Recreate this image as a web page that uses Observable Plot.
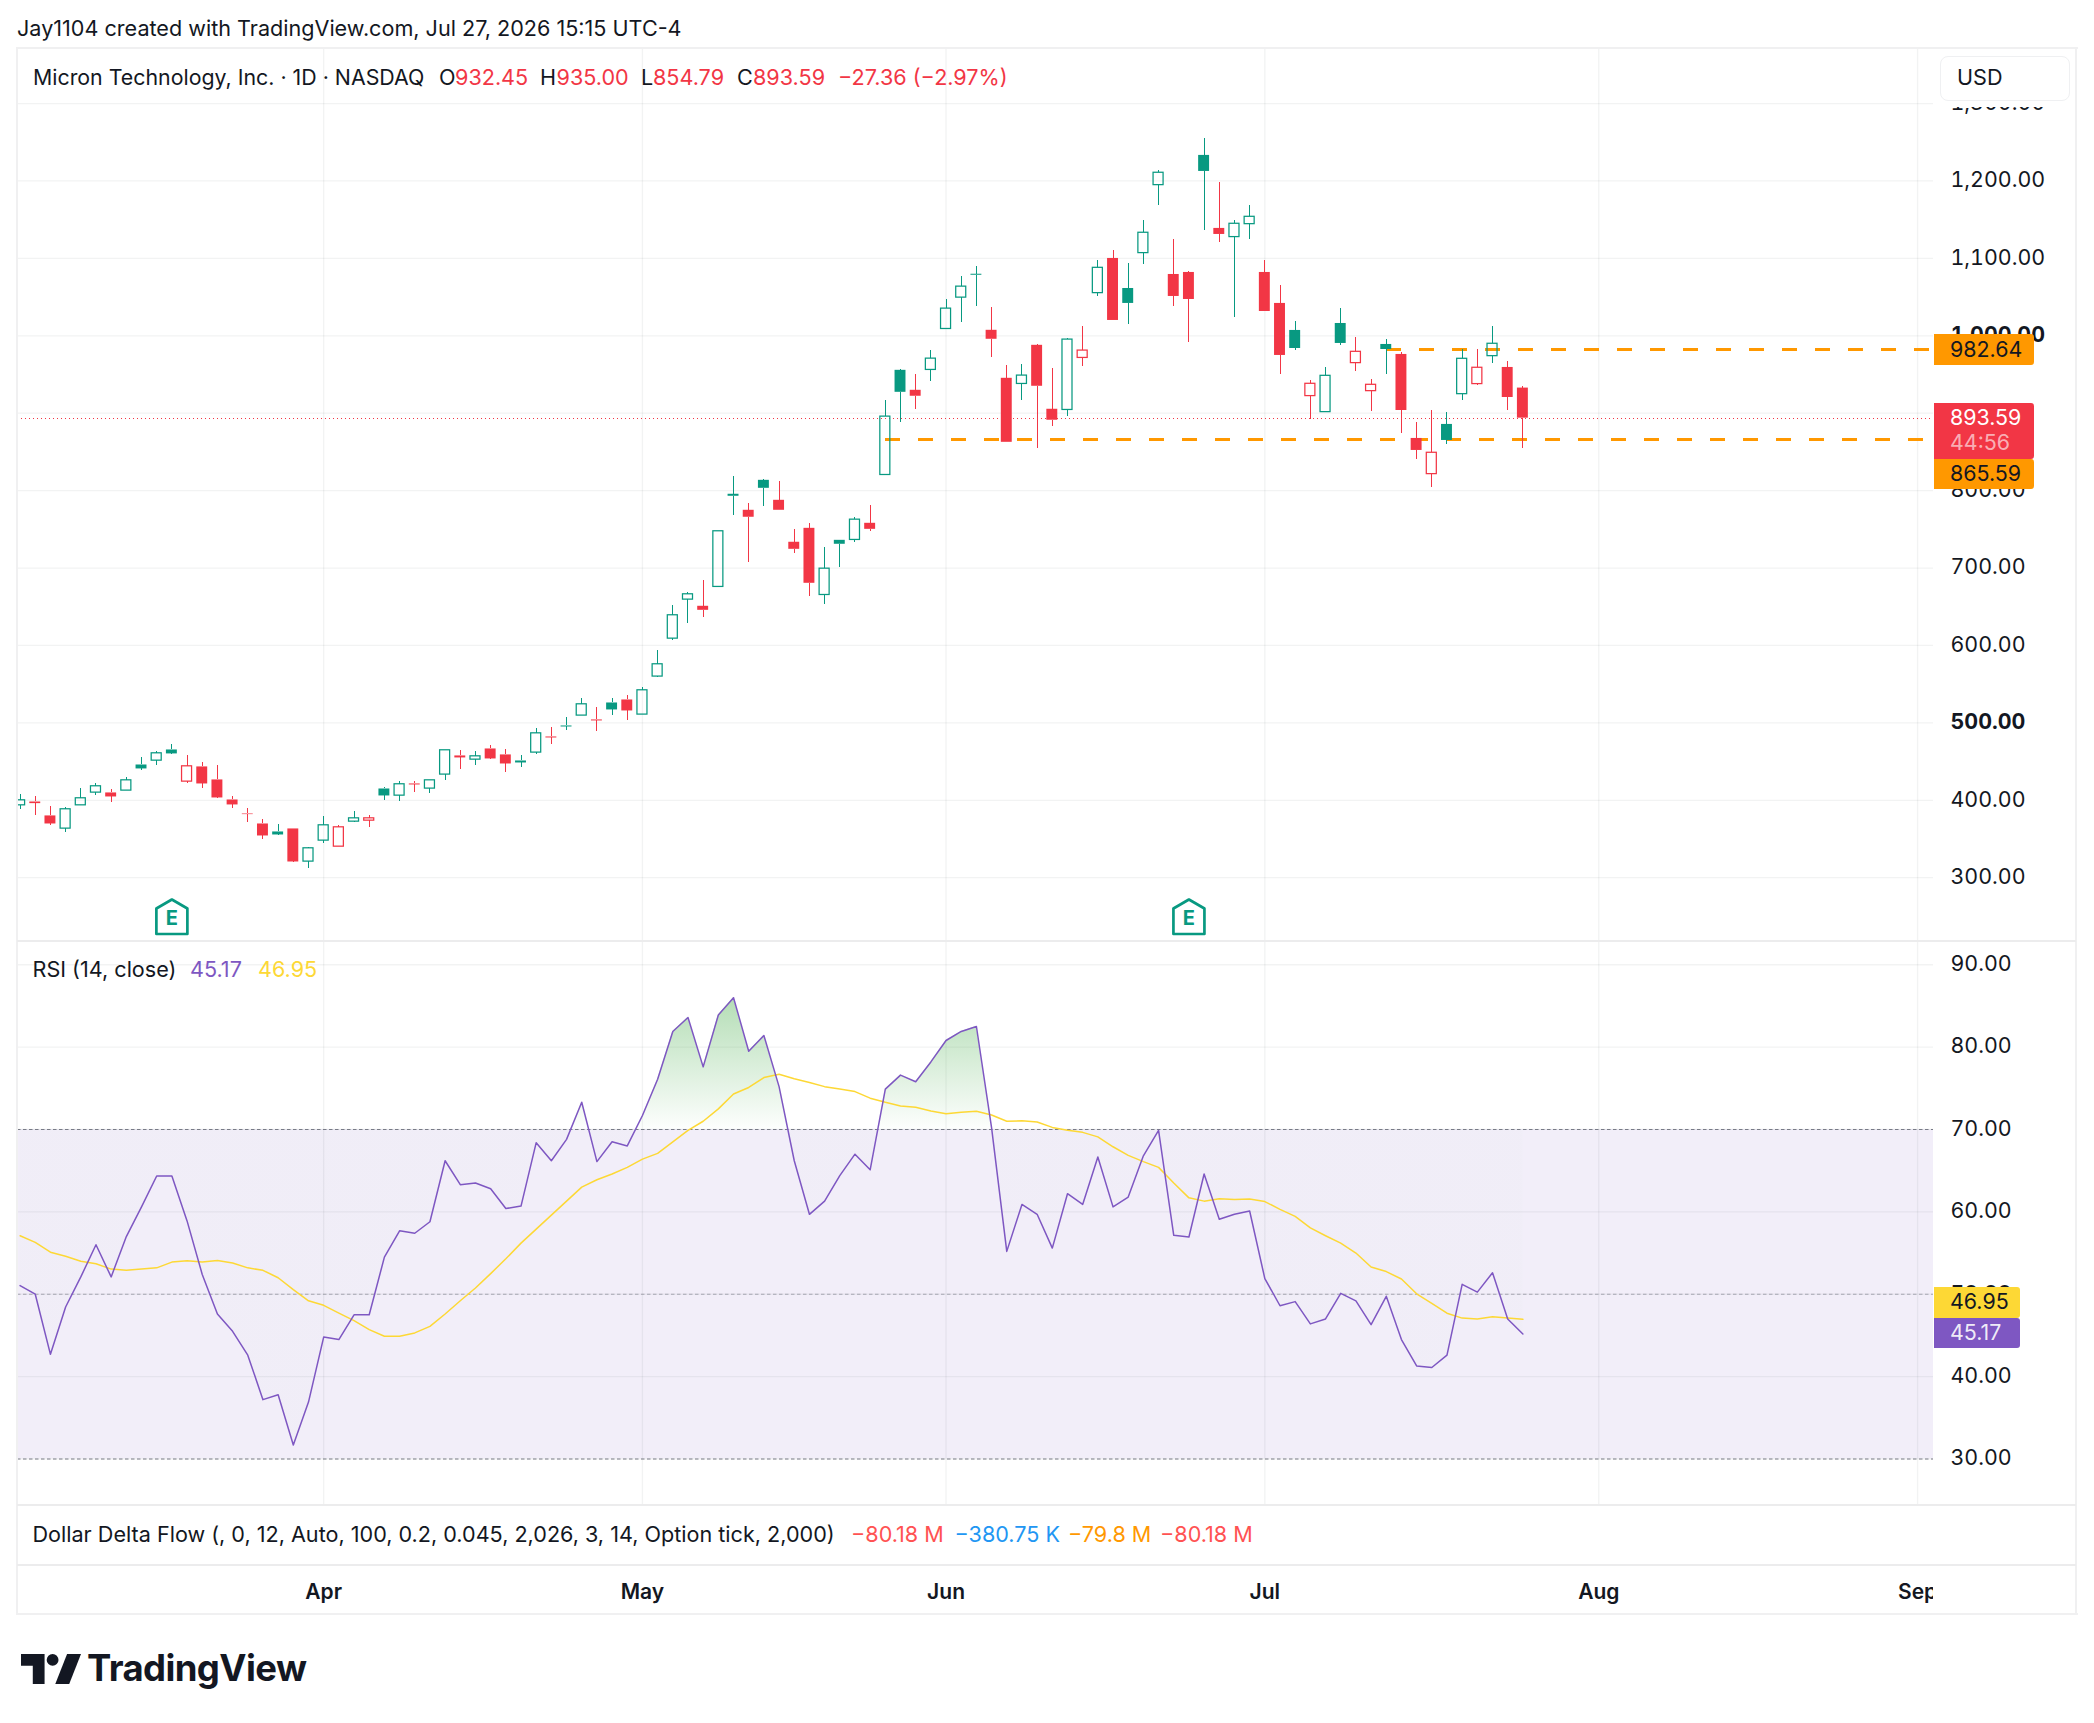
<!DOCTYPE html>
<html>
<head>
<meta charset="utf-8">
<title>Micron Technology, Inc. 1D NASDAQ</title>
<script src="https://cdn.jsdelivr.net/npm/d3@7"></script>
<script src="https://cdn.jsdelivr.net/npm/@observablehq/plot@0.6"></script>
<style>
html,body{margin:0;padding:0;background:#fff;}
#page{position:relative;width:2094px;height:1723px;overflow:hidden;background:#fff;font-family:Inter,"Liberation Sans",sans-serif;color:#131722;}
#page svg.plot-layer{position:absolute;left:0;max-width:none;}
.t{position:absolute;white-space:pre;line-height:1;transform:translateY(-50%);}
.box{position:absolute;}
</style>
</head>
<body>
<div id="page"></div>
<script>
// ---------- candles: one entry per trading day ----------
const candleHigh = [
 407.8,404.3,391.4,390.1,414.6,422.0,413.3,428.8,454.7,462.4,
 471.5,457.3,448.2,444.4,404.3,388.8,374.6,368.1,363.0,338.4,
 378.5,366.8,384.9,379.8,415.9,423.7,423.7,425.8,464.6,463.7,
 462.4,470.2,465.0,457.3,492.1,493.4,506.4,530.9,519.3,530.9,
 534.8,545.1,592.9,651.0,667.8,684.2,747.5,818.5,783.6,814.6,
 812.1,750.0,757.8,726.8,735.8,765.6,781.1,916.7,956.7,950.3,
 981.3,1047.2,1076.9,1089.8,1036.8,961.9,963.2,989.0,958.0,996.8,
 1012.3,1097.3,1110.2,1093.4,1149.0,1213.6,1124.4,1083.1,1254.9,1198.1,
 1149.0,1168.4,1097.3,1065.0,1018.5,942.3,959.1,1035.3,997.8,943.6,
 995.3,978.5,888.0,903.5,901.0,982.3,982.3,1012.1,966.8,935.0];
const candleTop = [
 400.0,397.8,379.8,388.4,402.6,418.1,409.5,425.8,445.6,460.7,
 465.0,443.9,443.1,426.3,400.4,382.3,369.4,359.1,363.0,338.0,
 367.7,365.1,376.7,376.7,414.6,420.7,421.1,425.8,464.6,457.3,
 456.8,466.3,458.6,450.8,486.5,481.8,496.0,524.0,503.8,525.7,
 529.6,542.1,575.7,639.0,666.1,650.6,747.5,795.3,774.6,813.3,
 787.5,733.3,751.3,699.2,735.8,762.5,757.8,895.6,955.4,929.6,
 970.5,1035.1,1063.5,1079.5,1007.1,945.1,948.6,987.7,905.1,995.1,
 980.9,1087.8,1099.9,1061.1,1133.1,1210.6,1079.2,1081.8,1233.0,1138.7,
 1144.7,1153.7,1081.8,1041.8,1006.9,938.0,948.3,1015.9,979.3,936.7,
 988.8,975.9,867.4,848.9,885.5,970.3,958.7,989.7,959.1,932.45];
const candleBottom = [
 393.5,395.7,369.4,363.4,393.5,409.9,404.3,412.5,440.5,451.2,
 459.9,424.1,421.1,403.0,394.0,381.5,353.9,355.2,320.3,320.8,
 347.9,340.1,372.4,373.7,405.6,406.0,419.8,415.1,433.2,454.7,
 452.5,453.4,446.9,448.2,461.6,480.5,494.7,509.4,502.5,516.7,
 515.4,510.7,559.8,608.8,659.2,645.4,675.6,792.7,765.6,803.0,
 774.6,724.2,680.3,665.2,730.7,736.3,750.0,820.2,927.0,921.9,
 955.9,1008.8,1049.3,1078.2,995.5,862.4,937.8,934.8,890.9,904.2,
 971.4,1055.1,1019.8,1041.8,1106.8,1194.6,1050.8,1046.9,1212.3,1130.9,
 1127.5,1144.2,1031.4,974.6,983.6,922.1,901.4,990.1,964.7,928.5,
 982.3,903.5,851.9,821.3,864.8,924.6,937.6,973.7,920.3,893.59];
const candleLow = [
 387.9,379.8,366.8,358.2,393.5,406.0,396.6,412.5,437.9,444.4,
 458.6,421.1,414.6,401.7,388.8,370.7,350.0,353.9,319.0,311.3,
 343.6,340.1,370.7,364.3,399.1,397.8,409.5,408.2,425.0,439.2,
 444.4,452.1,435.3,441.8,458.6,471.5,489.6,509.4,488.3,508.9,
 502.5,510.7,558.0,605.8,627.8,636.4,675.6,768.1,707.4,779.8,
 774.6,719.0,663.5,653.2,701.0,733.3,747.5,820.2,888.3,905.1,
 941.2,1008.8,1017.4,1038.2,972.2,862.4,916.7,854.7,883.1,896.0,
 960.6,1050.8,1019.8,1014.6,1092.1,1168.4,1037.9,991.4,1136.1,1120.6,
 1023.7,1124.4,1031.4,950.0,981.0,891.9,901.4,987.5,953.9,902.3,
 950.0,873.8,840.2,804.1,859.6,916.5,935.8,964.3,903.5,854.79];
const candleUp = [
 1,0,0,1,1,1,0,1,1,1,
 1,0,0,0,0,0,0,1,0,1,
 1,0,1,0,1,1,0,1,1,0,
 1,0,0,1,1,0,1,1,0,1,
 0,1,1,1,1,0,1,1,0,1,
 0,0,0,1,1,1,0,1,1,0,
 1,1,1,1,0,0,1,0,0,1,
 0,1,0,1,1,1,0,0,1,0,
 1,1,0,0,1,0,1,1,0,0,
 1,0,0,0,1,1,0,1,0,0];
const candleHollow = [
 1,0,0,1,1,1,0,1,0,1,
 0,1,0,0,0,0,0,0,0,1,
 1,1,1,1,0,1,0,1,1,0,
 1,0,0,0,1,0,0,1,0,0,
 0,1,1,1,1,0,1,0,0,0,
 0,0,0,1,0,1,0,1,0,0,
 1,1,1,0,0,0,1,0,0,1,
 1,1,0,0,1,1,0,0,0,0,
 1,1,0,0,0,1,1,0,1,1,
 0,0,0,1,0,1,1,1,0,0];

// ---------- RSI(14) and its moving average ----------
const rsiValues = [
 51.05,50.0,42.7,48.45,52.1,56.0,52.1,57.0,60.6,64.35,
 64.35,58.9,52.4,47.6,45.5,42.6,37.2,37.8,31.7,36.9,
 44.8,44.5,47.5,47.5,54.5,57.7,57.4,58.8,66.2,63.3,
 63.5,62.8,60.4,60.7,68.4,66.2,68.8,73.3,66.1,68.5,
 68.0,71.7,76.1,81.9,83.6,77.6,83.9,86.0,79.5,81.4,
 75.2,66.2,59.7,61.3,64.4,67.0,65.1,74.9,76.6,75.8,
 78.2,80.8,81.9,82.5,70.2,55.2,60.9,59.7,55.6,62.2,
 60.9,66.65,60.6,61.8,66.8,69.9,57.15,56.95,64.6,59.1,
 59.7,60.1,51.9,48.6,49.1,46.4,47.0,50.1,49.2,46.3,
 49.75,44.5,41.3,41.1,42.6,51.2,50.25,52.6,47.0,45.17];
const rsiAverage = [
 57.1,56.3,55.1,54.6,54.0,53.7,53.05,52.9,53.05,53.2,
 53.9,54.05,53.9,54.1,53.8,53.2,52.9,52.0,50.55,49.2,
 48.65,47.7,46.8,45.7,44.9,44.9,45.3,46.1,47.6,49.2,
 50.75,52.5,54.3,56.2,57.9,59.6,61.3,63.0,63.9,64.6,
 65.4,66.4,67.1,68.5,69.9,71.0,72.5,74.3,75.1,76.3,
 76.7,76.15,75.7,75.2,74.9,74.6,73.8,73.3,72.85,72.7,
 72.25,71.9,72.1,72.2,71.75,71.0,71.05,70.9,70.25,69.9,
 69.65,69.1,67.9,66.85,66.1,65.4,63.5,61.7,61.3,61.6,
 61.5,61.55,61.25,60.3,59.45,58.05,57.1,56.2,55.0,53.3,
 52.75,51.85,50.05,48.9,47.7,47.1,47.0,47.25,47.1,46.95];

// ---------- axes and levels ----------
const priceTicks = [300,400,500,600,700,800,900,1000,1100,1200,1300];
const priceBoldTicks = [500,1000];
const rsiTicks = [30,40,50,60,70,80,90];
const monthBars = [20,41,61,82,104,125];
const monthNames = ["Apr","May","Jun","Jul","Aug","Sep"];
const earningsBars = [10,77];
const lastClose = 893.59;
const upperLevel = 982.64, upperLevelStart = 90;
const lowerLevel = 865.59, lowerLevelStart = 57;
const rsiBounds = [30,50,70];

const GREEN="#089981", RED="#F23645", ORANGE="#FF9800", PURPLE="#7E57C2", YELLOW="#FDD835", INK="#131722";
const FONT='Inter,"Liberation Sans",sans-serif';
const candles = candleHigh.map((h,i)=>({bar:i,high:h,top:candleTop[i],bottom:candleBottom[i],low:candleLow[i],
  color:candleUp[i]?GREEN:RED,hollow:!!candleHollow[i]}));
const rsiRows = rsiValues.map((v,i)=>({bar:i,rsi:v,avg:rsiAverage[i]}));

const X_DOMAIN=[-0.17,126.05], W=2094, ML=17, MR=161;
const page=document.getElementById("page");
const gridStyle={stroke:"#2a2e39",strokeOpacity:0.06,strokeWidth:1.3};

function place(svg,top){svg.classList.add("plot-layer");svg.style.top=top+"px";page.appendChild(svg);return svg;}
const fmt=d3.format(",.2f");
const axisBase={anchor:"right",tickSize:0,tickPadding:17,textAnchor:"start",tickFormat:fmt,label:null,fontFamily:FONT,fontSize:21.4,fill:INK};

// ---------- price pane ----------
const houseMark={draw(c){c.moveTo(0,-18);c.lineTo(15.5,-9);c.lineTo(15.5,16.5);c.lineTo(-15.5,16.5);c.lineTo(-15.5,-9);c.closePath();}};
const main=Plot.plot({
  width:W,height:893,marginLeft:ML,marginRight:MR,marginTop:0,marginBottom:0,
  style:{background:"transparent",fontFamily:FONT},
  x:{domain:X_DOMAIN,axis:null},
  y:{domain:[217.6,1371.1]},
  color:{type:"identity"},
  marks:[
    Plot.ruleX(monthBars,gridStyle),
    Plot.ruleY(priceTicks,gridStyle),
    Plot.ruleY([lastClose],{stroke:RED,strokeWidth:1,strokeDasharray:"1 3",shapeRendering:"crispEdges"}),
    Plot.ruleY([upperLevel],{x1:upperLevelStart,x2:X_DOMAIN[1],stroke:ORANGE,strokeWidth:3,strokeDasharray:"15 18",shapeRendering:"crispEdges"}),
    Plot.ruleY([lowerLevel],{x1:lowerLevelStart,x2:X_DOMAIN[1],stroke:ORANGE,strokeWidth:3,strokeDasharray:"15 18",shapeRendering:"crispEdges"}),
    Plot.ruleX(candles,{x:"bar",y1:"high",y2:"top",stroke:"color",strokeWidth:1,clip:true,shapeRendering:"crispEdges"}),
    Plot.ruleX(candles,{x:"bar",y1:"bottom",y2:"low",stroke:"color",strokeWidth:1,clip:true,shapeRendering:"crispEdges"}),
    Plot.rect(candles.filter(d=>!d.hollow),{x1:d=>d.bar-0.36,x2:d=>d.bar+0.36,y1:"bottom",y2:"top",fill:"color",clip:true}),
    Plot.rect(candles.filter(d=>d.hollow),{x1:d=>d.bar-0.33,x2:d=>d.bar+0.33,y1:"bottom",y2:"top",fill:"none",stroke:"color",strokeWidth:1.25,clip:true}),
    Plot.dot(earningsBars,{x:d=>d,frameAnchor:"bottom",dy:-24,symbol:houseMark,fill:"#fff",stroke:GREEN,strokeWidth:2.7,strokeLinejoin:"round"}),
    Plot.text(earningsBars,{x:d=>d,text:()=>"E",frameAnchor:"bottom",lineAnchor:"middle",dy:-22.5,fill:GREEN,fontWeight:700,fontSize:20,fontFamily:FONT}),
    Plot.axisY({...axisBase,ticks:priceTicks.filter(t=>!priceBoldTicks.includes(t)),dy:-0.5}),
    Plot.axisY({...axisBase,ticks:priceBoldTicks,dy:-0.5,fontWeight:700})
  ]
});
place(main,48);

// ---------- RSI pane ----------
const rsi=Plot.plot({
  width:W,height:564,marginLeft:ML,marginRight:MR,marginTop:0,marginBottom:0,
  style:{background:"transparent",fontFamily:FONT},
  x:{domain:X_DOMAIN,axis:null},
  y:{domain:[24.35,92.82]},
  marks:[
    (index,scales)=>{
      const defs=d3.create("svg:defs");
      const g=defs.append("linearGradient").attr("id","rsi-glow").attr("gradientUnits","userSpaceOnUse")
        .attr("x1",0).attr("x2",0).attr("y1",scales.y(86)).attr("y2",scales.y(70));
      g.append("stop").attr("offset",0).attr("stop-color","#4CAF50").attr("stop-opacity",0.42);
      g.append("stop").attr("offset",1).attr("stop-color","#4CAF50").attr("stop-opacity",0.01);
      return defs.node();
    },
    Plot.rectY([0],{x1:X_DOMAIN[0],x2:X_DOMAIN[1],y1:30,y2:70,fill:PURPLE,fillOpacity:0.1}),
    Plot.ruleX(monthBars,gridStyle),
    Plot.ruleY(rsiTicks,gridStyle),
    Plot.areaY(rsiRows,{x:"bar",y1:70,y2:"rsi",fill:"url(#rsi-glow)",clip:true}),
    Plot.ruleY([rsiBounds[0],rsiBounds[2]],{stroke:"#787B86",strokeWidth:1.1,strokeDasharray:"3.5 2.5"}),
    Plot.ruleY([rsiBounds[1]],{stroke:"#787B86",strokeOpacity:0.6,strokeWidth:1.1,strokeDasharray:"3.5 2.5"}),
    Plot.lineY(rsiRows,{x:"bar",y:"avg",stroke:YELLOW,strokeWidth:1.5,clip:true}),
    Plot.lineY(rsiRows,{x:"bar",y:"rsi",stroke:PURPLE,strokeWidth:1.5,clip:true}),
    Plot.axisY({...axisBase,ticks:rsiTicks.filter(t=>t!==50),dy:-0.5}),
    Plot.axisY({...axisBase,ticks:[50],dy:-0.5,fontWeight:700})
  ]
});
place(rsi,941);

// ---------- month labels ----------
const months=Plot.plot({
  width:W,height:50,marginLeft:ML,marginRight:MR,marginTop:0,marginBottom:0,
  style:{background:"transparent",fontFamily:FONT},
  x:{domain:X_DOMAIN,axis:null},
  marks:[
    Plot.text(monthBars,{x:d=>d,text:(d,i)=>monthNames[i],frameAnchor:"top",lineAnchor:"middle",dy:27,fontSize:21,fontWeight:600,fill:INK,fontFamily:FONT,clip:true})
  ]
});
place(months,1565);

// ---------- frame and chrome ----------
function box(l,t,w,h,style){const d=document.createElement("div");d.className="box";
  d.style.cssText=`left:${l}px;top:${t}px;width:${w}px;height:${h}px;`+(style||"");page.appendChild(d);return d;}
function label(text,left,cy,color,size,weight){const d=document.createElement("div");d.className="t";d.textContent=text;
  d.style.left=left+"px";d.style.top=cy+"px";d.style.color=color||INK;d.style.fontSize=(size||21.6)+"px";if(weight)d.style.fontWeight=weight;page.appendChild(d);return d;}

const LINE="#f0f0f1";
box(16,47,2062,2,`background:${LINE}`);
box(16,1613,2062,2,`background:${LINE}`);
box(16,47,2,1568,`background:${LINE}`);
box(2075,47,2,1568,`background:${LINE}`);
box(17,940,2059,2,`background:#ececed`);
box(17,1504,2059,2,`background:#ececed`);
box(17,1564,2059,2,`background:#ececed`);
box(1934,49,141,58,"background:#fff");
box(1940,56,130,45,"background:#fff;border:1px solid #eff0f2;border-radius:8px;box-sizing:border-box;");
label("USD",1957,78);

label("Jay1104 created with TradingView.com, Jul 27, 2026 15:15 UTC-4",17,28.5);
label("Micron Technology, Inc. · 1D · NASDAQ",33,77.5,INK,21.35);
label("O",439,77.5);label("932.45",455,77.5,RED);
label("H",540,77.5);label("935.00",556.5,77.5,RED);
label("L",641,77.5);label("854.79",653,77.5,RED);
label("C",737,77.5);label("893.59",753,77.5,RED);
label("−27.36 (−2.97%)",838,77.5,RED);
label("RSI (14, close)",32.5,970);
label("45.17",190,970,PURPLE);
label("46.95",258,970,YELLOW);
label("Dollar Delta Flow (, 0, 12, Auto, 100, 0.2, 0.045, 2,026, 3, 14, Option tick, 2,000)",32.5,1535);
label("−80.18 M",851,1535,"#FF5252");
label("−380.75 K",954.5,1535,"#2196F3");
label("−79.8 M",1068,1535,"#FF9800");
label("−80.18 M",1160,1535,"#FF5252");

// ---------- price tags on the axes, positioned through the chart scales ----------
const yMain=v=>main.scale("y").apply(v)+48, yRsi=v=>rsi.scale("y").apply(v)+941;
function tag(cy,h,w,bg,lines){box(1934,cy-h/2,w,h,`background:${bg};border-radius:0 3px 3px 0;`);
  lines.forEach(([text,color,offset])=>label(text,1950,cy+offset,color,21.4));}
tag(yMain(upperLevel)+0.8,31,99.5,ORANGE,[["982.64",INK,0]]);
tag(yMain(lastClose)+13,56,99.5,RED,[["893.59","#ffffff",-12.2],["44:56","rgba(255,255,255,.62)",12.3]]);
tag(yMain(lowerLevel)+34.5,30,99.5,ORANGE,[["865.59",INK,0]]);
tag(yRsi(46.95)-16.4,31,86,YELLOW,[["46.95",INK,0]]);
tag(yRsi(45.17)-0.6,30,86,PURPLE,[["45.17","rgba(255,255,255,.9)",0]]);

// ---------- wordmark ----------
const logo=document.createElementNS("http://www.w3.org/2000/svg","svg");
logo.setAttribute("width","60");logo.setAttribute("height","30");logo.setAttribute("viewBox","0 0 56 28");
logo.style.cssText="position:absolute;left:21px;top:1654px;";
logo.innerHTML='<path d="M0 0H22V28H11V11H0Z" fill="#131722"/><circle cx="29.5" cy="5.5" r="5.5" fill="#131722"/><path d="M43 0H56L45 28H32Z" fill="#131722"/>';
page.appendChild(logo);
label("TradingView",87,1668,INK,36.5,700).style.letterSpacing="-0.6px";
</script>
</body>
</html>
